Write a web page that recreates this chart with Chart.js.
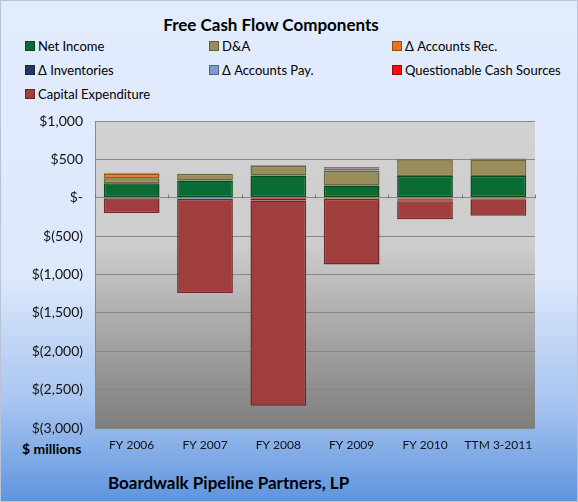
<!DOCTYPE html>
<html>
<head>
<meta charset="utf-8">
<script src="https://cdn.jsdelivr.net/npm/chart.js@4.4.1/dist/chart.umd.min.js"></script>
<style>
  html,body{margin:0;padding:0;}
  body{width:578px;height:502px;overflow:hidden;font-family:Lato,"Open Sans",sans-serif;}
  #wrap{position:absolute;left:0;top:0;width:576px;height:500px;border:1px solid #b8c4d6;
    background:linear-gradient(to bottom,#e2ecfd 0%,#dde8fb 55%,#a9c5f0 80%,#5f95de 100%);}
  #title{position:absolute;left:0;width:540px;top:13px;text-align:center;font-weight:bold;font-size:17px;color:#000;}
  .lg{position:absolute;font-size:13px;color:#000;white-space:nowrap;}
  .lg i{display:inline-block;width:8px;height:8px;margin-right:3px;vertical-align:0px;border:1px solid rgba(0,0,0,0.35);}
  #unit{position:absolute;left:21px;top:439px;font-weight:bold;font-size:14px;color:#000;}
  #foot{position:absolute;left:107px;top:471px;font-weight:bold;font-size:17px;color:#000;}
  canvas{position:absolute;left:0;top:0;}
</style>
</head>
<body>
<div id="wrap">
  <div id="title">Free Cash Flow Components</div>
  <div id="legend"></div>
  <div id="unit">$ millions</div>
  <div id="foot">Boardwalk Pipeline Partners, LP</div>
</div>
<canvas id="c" width="578" height="502"></canvas>
<script>
const categories = ["FY 2006","FY 2007","FY 2008","FY 2009","FY 2010","TTM 3-2011"];
const netIncome      = [190, 226, 291, 160, 283, 282];
const dna            = [65, 87, 122, 195, 218, 217];
const accountsRec    = [57, 0, 0, -15, -17, -20];
const inventories    = [0, 0, 0, 0, 0, 0];
const accountsPay    = [13, -15, 10, 26, -17, 12];
const questionable   = [0, 0, -35, 17, -13, 0];
const capex          = [-200, -1225, -2675, -855, -233, -215];
const yTicks         = [1000, 500, 0, -500, -1000, -1500, -2000, -2500, -3000];
const seriesNames = ["Net Income","D&A","\u0394 Accounts Rec.","\u0394 Inventories","\u0394 Accounts Pay.","Questionable Cash Sources","Capital Expenditure"];
const seriesData = [netIncome, dna, accountsRec, inventories, accountsPay, questionable, capex];
const fills   = ["#0a6c33","#998d5c","#e8761a","#1f3864","#7f9acb","#ff0a0a","#a03d3d"];
const borders = ["#064a22","#6f653d","#a85210","#0f1f3d","#56709e","#b00000","#6e2828"];

// legend
const legPos = [[24,37],[208,37],[391,37],[24,61],[208,61],[391,61],[24,85]];
const lgEl = document.getElementById('legend');
seriesNames.forEach((n,i)=>{
  const d=document.createElement('div');d.className='lg';
  d.style.left=legPos[i][0]+'px';d.style.top=legPos[i][1]+'px';
  d.innerHTML='<i style="background:'+fills[i]+'"></i>'+n.replace('&','&amp;');
  lgEl.appendChild(d);
});

function fmt(v){
  if(v===0) return '$-';
  const s=Math.abs(v).toLocaleString('en-US');
  return v<0?'$('+s+')':'$'+s;
}

const bgPlugin={
  id:'bg',
  beforeDraw(chart){
    const {ctx,chartArea:a}=chart;
    const g=ctx.createLinearGradient(0,a.top,0,a.bottom);
    g.addColorStop(0,'#d2d2d2');g.addColorStop(0.4,'#cdcdcd');g.addColorStop(1,'#7e7e7e');
    ctx.save();ctx.fillStyle=g;ctx.fillRect(a.left,a.top,a.right-a.left,a.bottom-a.top);
    ctx.strokeStyle='#8a8a8a';ctx.lineWidth=1;
    ctx.beginPath();ctx.moveTo(a.left+0.5,a.top);ctx.lineTo(a.left+0.5,a.bottom);ctx.stroke();
    ctx.restore();
  },
  afterDatasetsDraw(chart){
    const {ctx,chartArea:a,scales}=chart;
    const y0=Math.round(scales.y.getPixelForValue(0))+0.5;
    ctx.save();ctx.strokeStyle='#7a7a7a';ctx.lineWidth=1;
    const n=categories.length, w=(a.right-a.left)/n;
    for(let i=0;i<=n;i++){
      const x=Math.round(a.left+i*w)+0.5;
      ctx.beginPath();ctx.moveTo(x,y0-4);ctx.lineTo(x,y0);ctx.stroke();
    }
    ctx.restore();
  }
};

new Chart(document.getElementById('c'),{
  type:'bar',
  data:{
    labels:categories,
    datasets:seriesData.map((d,i)=>({
      label:seriesNames[i],data:d,backgroundColor:fills[i],borderColor:borders[i],
      borderWidth:1.5,borderSkipped:false,barPercentage:0.76,categoryPercentage:1.0
    }))
  },
  options:{
    responsive:false,animation:false,
    layout:{padding:{left:10,right:43,top:121,bottom:44}},
    plugins:{legend:{display:false},tooltip:{enabled:false}},
    scales:{
      x:{stacked:true,grid:{display:false},border:{display:false},
        ticks:{color:'#111',font:{family:'Lato',size:12},padding:2,maxRotation:0,minRotation:0,autoSkip:false},
        afterFit(s){s.height=30;}},
      y:{stacked:true,min:-3000,max:1000,
        afterBuildTicks(s){s.ticks=yTicks.map(v=>({value:v}));},
        grid:{color:'#888',drawTicks:false},border:{display:false},
        ticks:{color:'#111',font:{family:'Lato',size:14},padding:12,callback:v=>fmt(v)},
        afterFit(s){s.width=85;}}
    }
  },
  plugins:[bgPlugin]
});
</script>
</body>
</html>
